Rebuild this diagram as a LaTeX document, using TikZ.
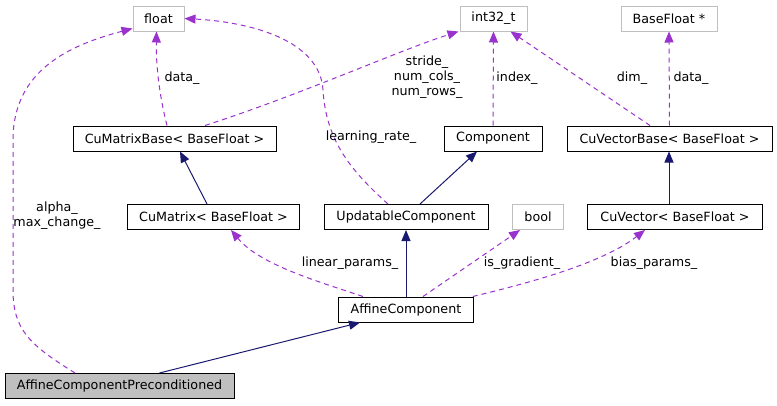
\documentclass[tikz,border=0pt]{standalone}
\usepackage{fontspec}
\setmainfont{DejaVu Sans}
\usepackage{tikz}
\usetikzlibrary{arrows.meta}
\definecolor{edgenavy}{HTML}{191970}
\definecolor{edgeorchid}{HTML}{9A32CD}
\definecolor{boxgray}{HTML}{BFBFBF}
\tikzset{
  classbox/.style={rectangle, draw=black, line width=1pt, minimum height=25pt,
    inner xsep=4pt, font=\fontsize{12.7}{15}\selectfont, text=black},
  extbox/.style={classbox, draw=boxgray},
  focusbox/.style={classbox, fill=boxgray},
  lbl/.style={font=\fontsize{12.7}{15}\selectfont, inner sep=0pt, text=black},
  inherit/.style={-{Triangle[length=11pt,width=9pt]}, line width=1pt, edgenavy},
  member/.style={-{Triangle[length=11pt,width=9pt]}, line width=1pt, edgeorchid,
    dash pattern=on 5pt off 4pt}
}
\begin{document}
\begin{tikzpicture}[x=1pt, y=-1pt, every node/.style={align=center}]
  \useasboundingbox (0,0) rectangle (777,405);
  % top row
  \node[extbox, minimum width=51pt]  (flt)   at (158.5,18.5) {float};
  \node[extbox, minimum width=67pt]  (int)   at (493.5,18.5) {int32\_t};
  \node[extbox, minimum width=96pt]  (bfp)   at (669,18.5)   {BaseFloat *};
  % bases
  \node[classbox, minimum width=203pt] (cmb)  at (174.5,138.5) {CuMatrixBase< BaseFloat >};
  \node[classbox, minimum width=98pt]  (comp) at (493,138.5)   {Component};
  \node[classbox, minimum width=205pt] (cvb)  at (669.5,138.5) {CuVectorBase< BaseFloat >};
  \node[classbox, minimum width=172pt] (cmat) at (213.5,217)   {CuMatrix< BaseFloat >};
  \node[classbox, minimum width=164pt] (upd)  at (406,217)     {UpdatableComponent};
  \node[extbox,   minimum width=50.5pt] (bool) at (538,217)    {bool};
  \node[classbox, minimum width=175pt] (cvec) at (675,217)     {CuVector< BaseFloat >};
  \node[classbox, minimum width=134.5pt] (aff) at (406,309.5)  {AffineComponent};
  \node[focusbox, minimum width=229pt] (pre)  at (119.5,386)   {AffineComponentPreconditioned};
  % inheritance
  \draw[inherit] ([xshift=40pt]pre.north) -- ([xshift=-46pt]aff.south);
  \draw[inherit] (aff.north) -- (upd.south);
  \draw[inherit] ([xshift=14pt]upd.north) -- ([xshift=-16pt]comp.south);
  \draw[inherit] ([xshift=-6.5pt]cmat.north) -- ([xshift=5.5pt]cmb.south);
  \draw[inherit] ([xshift=-6pt]cvec.north) -- ([xshift=-0.5pt]cvb.south);
  % members
  \draw[member] ([xshift=-44.5pt]pre.north) .. controls (30,345) and (13,330) .. (13,290)
    -- (13,140) .. controls (13,70) and (70,45) .. ([yshift=3pt]flt.south west);
  \draw[member] ([xshift=-7.5pt]cmb.north) .. controls (158,90) and (156,60) .. ([xshift=-2pt]flt.south);
  \draw[member] ([xshift=30.5pt]cmb.north) .. controls (300,95) and (400,50) .. ([xshift=-35pt]int.south);
  \draw[member] ([xshift=-18pt]upd.north) .. controls (350,170) and (326,140) .. (323,90)
    .. controls (320,40) and (250,22) .. (flt.east);
  \draw[member] (comp.north) -- (int.south);
  \draw[member] ([xshift=-19.5pt]cvb.north) -- ([xshift=17pt]int.south);
  \draw[member] (cvb.north) -- (bfp.south);
  \draw[member] ([xshift=-43pt]aff.north) .. controls (320,282) and (260,265) .. ([xshift=17.5pt]cmat.south);
  \draw[member] ([xshift=17pt]aff.north) -- ([xshift=-18pt]bool.south);
  \draw[member] ([xshift=-1pt]aff.north east) .. controls (520,285) and (600,265) .. ([xshift=-30pt]cvec.south);
  % labels
  \node[lbl] (lalpha) at (57,215.5) {alpha\_\\max\_change\_};
  \node[lbl] (ldata)  at (182,78)   {data\_};
  \node[lbl] (lstr)   at (427,77)   {stride\_\\num\_cols\_\\num\_rows\_};
  \node[lbl] (lrate)  at (371,137)  {learning\_rate\_};
  \node[lbl] (lidx)   at (517,78)   {index\_};
  \node[lbl] (ldim)   at (632,78)   {dim\_};
  \node[lbl] (lvdat)  at (691,78)   {data\_};
  \node[lbl] (llin)   at (350,263)  {linear\_params\_};
  \node[lbl] (lgrad)  at (522,263)  {is\_gradient\_};
  \node[lbl] (lbias)  at (654,263)  {bias\_params\_};
\end{tikzpicture}
\end{document}
